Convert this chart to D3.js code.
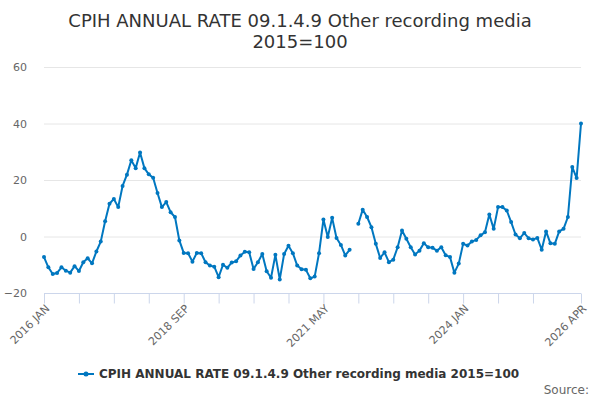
<!DOCTYPE html>
<html>
<head>
<meta charset="utf-8">
<script src="https://cdn.jsdelivr.net/npm/d3@7"></script>
<style>
  body { margin: 0; background: #fff; }
  text { font-family: "DejaVu Sans", sans-serif; }
</style>
</head>
<body>
<div class="graph"></div>
<script>
var title_lines = ["CPIH ANNUAL RATE 09.1.4.9 Other recording media", "2015=100"]
var series_name = "CPIH ANNUAL RATE 09.1.4.9 Other recording media 2015=100"

var month_names = ["JAN","FEB","MAR","APR","MAY","JUN","JUL","AUG","SEP","OCT","NOV","DEC"]
var start_year = 2016
var end_year = 2026
var end_month = 3

var months = []
for(var y = start_year; y <= end_year; y++){
  for(var m = 0; m < 12; m++){
    if(y == end_year && m > end_month) break
    months.push(y + " " + month_names[m])
  }
}

var values = [
  -7.3, -10.9, -13.3, -12.9, -10.9, -12.1, -12.8, -10.5, -12.2, -9.1, -7.7, -9.5,
  -5.3, -1.8, 5.4, 11.6, 13.3, 10.4, 17.9, 21.9, 27.0, 24.2, 29.7, 24.2,
  22.0, 20.8, 15.4, 10.4, 12.2, 8.6, 6.9, -1.4, -5.8, -5.9, -8.9, -5.8,
  -5.9, -9.1, -10.3, -10.7, -14.4, -10.0, -11.1, -9.2, -8.8, -6.7, -5.4, -5.6,
  -11.5, -9.1, -6.2, -12.3, -14.6, -6.5, -15.2, -6.2, -3.3, -5.9, -10.3, -11.6,
  -11.8, -14.8, -14.2, -5.9, 6.0, -0.2, 6.6, -0.5, -3.0, -6.7, -4.7, null,
  4.5, 9.5, 6.9, 3.3, -2.6, -7.6, -5.6, -9.1, -8.2, -3.8, 2.1, -0.8,
  -3.8, -6.4, -5.0, -2.4, -3.8, -4.0, -5.0, -3.8, -6.6, -7.3, -12.8, -9.6,
  -2.6, -3.2, -1.8, -1.2, 0.4, 1.5, 7.8, 2.7, 10.4, 10.4, 9.2, 5.1,
  0.7, -0.6, 1.2, -0.6, -1.1, -0.5, -4.7, 1.8, -2.4, -2.6, 1.8, 2.7,
  6.9, 24.6, 20.7, 40.0
]

var y_ticks = [-20, 0, 20, 40, 60]
var x_labels = ["2016 JAN", "2018 SEP", "2021 MAY", "2024 JAN", "2026 APR"]
// minor tick marks every 8 months, plus the last month
var x_tick_marks = months.filter(function(d, i){ return i % 8 == 0 && i <= 112 })
x_tick_marks.push(months[months.length - 1])

var w = 600
var h = 400
var blue = "#0077c0"

var svg = d3.select(".graph")
  .append("svg")
  .attr("width", w)
  .attr("height", h)

var x = d3.scalePoint()
  .domain(months)
  .range([44, 581])

var y = d3.scaleLinear()
  .domain([-20, 60])
  .range([293, 67])

// title
svg.append("text")
  .attr("x", 300)
  .attr("y", 27)
  .attr("text-anchor", "middle")
  .attr("font-size", 18)
  .attr("fill", "#333")
  .selectAll("tspan")
  .data(title_lines)
  .enter()
  .append("tspan")
  .attr("x", 300)
  .attr("dy", function(d, i){ return i == 0 ? 0 : 21 })
  .text(function(d){ return d })

// grid lines
svg.append("g")
  .selectAll("line")
  .data(y_ticks.slice(1))
  .enter()
  .append("line")
  .attr("x1", 44)
  .attr("x2", 581)
  .attr("y1", function(d){ return y(d) + 0.5 })
  .attr("y2", function(d){ return y(d) + 0.5 })
  .attr("stroke", "#e6e6e6")

// y labels
var y_axis = svg.append("g")
  .attr("transform", "translate(27,0)")
  .call(d3.axisLeft(y).tickValues(y_ticks).tickSize(0).tickPadding(0))
y_axis.select(".domain").remove()
y_axis.selectAll("text")
  .attr("font-family", "DejaVu Sans, sans-serif")
  .attr("font-size", 11)
  .attr("fill", "#666")

// x axis
var x_axis = svg.append("g")
  .attr("transform", "translate(0,293.5)")
  .call(d3.axisBottom(x)
    .tickValues(x_tick_marks)
    .tickSize(10)
    .tickSizeOuter(0)
    .tickFormat(function(d){ return x_labels.indexOf(d) >= 0 ? d : "" }))
x_axis.select(".domain")
  .attr("stroke", "#ccd6eb")
  .attr("d", "M44,0H581")
x_axis.selectAll(".tick line").attr("stroke", "#ccd6eb")
x_axis.selectAll(".tick text")
  .attr("font-family", "DejaVu Sans, sans-serif")
  .attr("font-size", 11)
  .attr("fill", "#666")
  .attr("text-anchor", "end")
  .attr("transform", "translate(3,13) rotate(-45)")
  .attr("dy", "0.35em")
  .attr("y", 0)

// series line
var line = d3.line()
  .defined(function(d){ return d != null })
  .x(function(d, i){ return x(months[i]) })
  .y(function(d){ return y(d) })

svg.append("path")
  .datum(values)
  .attr("fill", "none")
  .attr("stroke", blue)
  .attr("stroke-width", 2)
  .attr("stroke-linejoin", "round")
  .attr("d", line)

svg.append("g")
  .selectAll("circle")
  .data(values.map(function(d, i){ return {v: d, m: months[i]} }).filter(function(d){ return d.v != null }))
  .enter()
  .append("circle")
  .attr("cx", function(d){ return x(d.m) })
  .attr("cy", function(d){ return y(d.v) })
  .attr("r", 2)
  .attr("fill", blue)

// legend
var legend = svg.append("g").attr("transform", "translate(78,374)")
legend.append("line")
  .attr("x1", 0).attr("x2", 16)
  .attr("stroke", blue)
  .attr("stroke-width", 2)
legend.append("circle")
  .attr("cx", 8)
  .attr("r", 2.5)
  .attr("fill", blue)
legend.append("text")
  .attr("x", 21)
  .attr("y", 4)
  .attr("font-size", 12)
  .attr("font-weight", "bold")
  .attr("fill", "#333")
  .text(series_name)

svg.append("text")
  .attr("x", 589)
  .attr("y", 394)
  .attr("text-anchor", "end")
  .attr("font-size", 12)
  .attr("fill", "#666")
  .text("Source:")
</script>
</body>
</html>
